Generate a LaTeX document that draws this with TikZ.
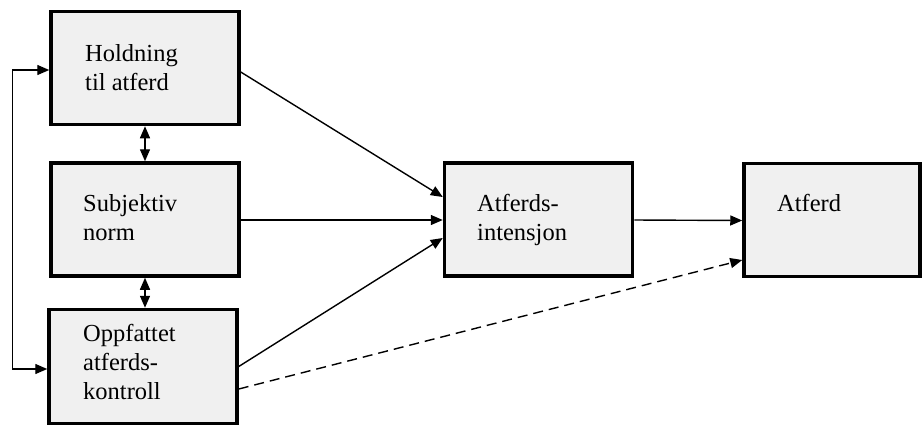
\documentclass[tikz,border=0pt]{standalone}
\usepackage{fontspec}
\setmainfont{Liberation Serif}
\usetikzlibrary{arrows.meta}

\begin{document}
\begin{tikzpicture}[x=1pt, y=-1pt, >={Triangle[length=12pt,width=10pt]},
        box/.style={draw, line width=3.5pt, fill=black!6, minimum width=188pt, minimum height=113pt, inner sep=0pt},
        txt/.style={anchor=north west, inner sep=0pt, align=left, font=\fontsize{24.5}{29}\selectfont},
        pil/.style={line width=1.4pt}]
        \useasboundingbox (0,0) rectangle (923,424);

        % boksene
        \node[box] (hold) at (145, 68) {};
        \node[box] (subj) at (145, 219.5) {};
        \node[box, minimum height=114pt] (ktrl) at (143, 366.5) {};
        \node[box] (int) at (538.5, 219.5) {};
        \node[box, minimum width=176pt] (atf) at (832, 220) {};

        \node[txt] (holdtxt) at (85, 44) {Holdning\\til atferd};
        \node[txt] (subjtxt) at (83, 194) {Subjektiv\\norm};
        \node[txt] (ktrltxt) at (83, 324) {Oppfattet\\atferds-\\kontroll};
        \node[txt] (inttxt) at (477, 194) {Atferds-\\intensjon};
        \node[txt] (atftxt) at (777, 194) {Atferd};

        % piler
        \draw[pil, ->] ([yshift=-4pt]hold.east) -- ([yshift=22.5pt]int.west);
        \draw[pil, ->] ([yshift=-0.5pt]subj.east) -- ([yshift=-0.5pt]int.west);
        \draw[pil, ->] (ktrl.east) -- ([yshift=-18.5pt]int.west);
        \draw[pil, ->] ([yshift=-0.5pt]int.east) -- ([yshift=-0.5pt]atf.west);
        \draw[pil, ->, dash pattern=on 10pt off 6pt] ([yshift=-22.5pt]ktrl.east) -- ([yshift=-40pt]atf.west);

        \draw[pil, <->] (hold.south) -- (subj.north);
        \draw[pil, <->] (subj.south) -- (ktrl.north -| subj.south);
        \draw[pil, <->] ([yshift=-2pt]hold.west) -- ++(-37,0) |- ([yshift=-2.5pt]ktrl.west);
    \end{tikzpicture}
\end{document}
